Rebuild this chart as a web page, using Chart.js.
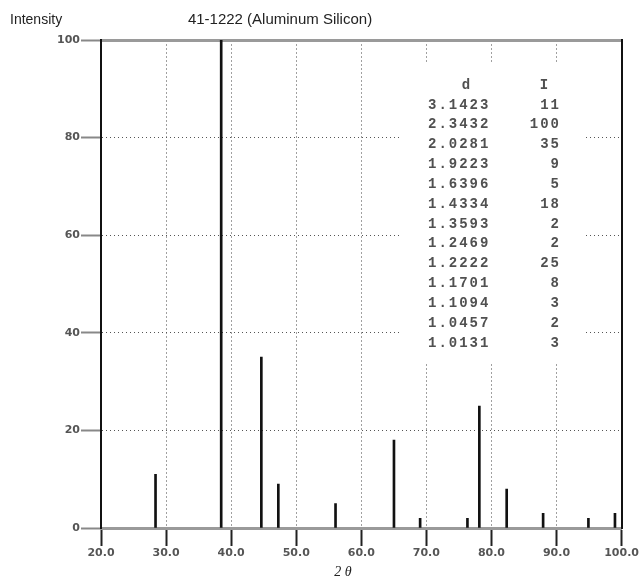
<!DOCTYPE html>
<html>
<head>
<meta charset="utf-8">
<script src="https://cdn.jsdelivr.net/npm/chart.js@4/dist/chart.umd.min.js"></script>
<style>
  html, body { margin: 0; padding: 0; background: #fff; }
  #wrap { width: 640px; height: 582px; }
</style>
</head>
<body>
<div id="wrap"><canvas id="c" width="640" height="582"></canvas></div>
<script>
// ─── Data: PDF card 41-1222 (Aluminum Silicon) ────────────────────────────────

const dSpacing  = [3.1423, 2.3432, 2.0281, 1.9223, 1.6396, 1.4334, 1.3593, 1.2469, 1.2222, 1.1701, 1.1094, 1.0457, 1.0131];
const intensity = [11, 100, 35, 9, 5, 18, 2, 2, 25, 8, 3, 2, 3];
const twoTheta  = [28.38, 38.47, 44.64, 47.25, 56.04, 65.02, 69.04, 76.31, 78.14, 82.34, 87.94, 94.90, 98.98];

const xTicks = [20, 30, 40, 50, 60, 70, 80, 90, 100];
const yTicks = [0, 20, 40, 60, 80, 100];

const chartTitle = '41-1222 (Aluminum Silicon)';
const yTitle     = 'Intensity';
const xTitle     = '2 θ';

// ─── Plugin: titles + d/I table ───────────────────────────────────────────────

const annotations = {
  id: 'annotations',
  afterDraw(chart) {
    const ctx = chart.ctx;
    ctx.save();

    ctx.fillStyle = '#222';
    ctx.textBaseline = 'middle';
    ctx.font = '15px "Liberation Sans", Arial, sans-serif';
    ctx.textAlign = 'center';
    ctx.fillText(chartTitle, 280, 20);

    ctx.font = '14px "Liberation Sans", Arial, sans-serif';
    ctx.textAlign = 'left';
    ctx.fillText(yTitle, 10, 20);

    ctx.font = 'italic 14px "Liberation Serif", serif';
    ctx.textAlign = 'center';
    ctx.fillText(xTitle, 343, 572);

    // white box behind the table hides the grid
    ctx.fillStyle = '#fff';
    ctx.fillRect(400, 62, 183, 301);

    ctx.fillStyle = '#505050';
    ctx.font = 'bold 14px "Liberation Mono", monospace';
    ctx.letterSpacing = '2px';
    ctx.textAlign = 'center';
    ctx.fillText('d', 467, 85);
    ctx.fillText('I', 545, 85);

    dSpacing.forEach((d, i) => {
      const y = 105 + i * 19.85;
      ctx.textAlign = 'left';
      ctx.fillText(d.toFixed(4), 428, y);
      ctx.textAlign = 'right';
      ctx.fillText(String(intensity[i]), 561, y);
    });

    ctx.restore();
  },
};

// ─── Chart ────────────────────────────────────────────────────────────────────

const tickFont = { family: '"DejaVu Sans", sans-serif', size: 11, weight: 'bold' };

new Chart(document.getElementById('c').getContext('2d'), {
  type: 'bar',
  data: {
    datasets: [
      {
        label: 'I',
        data: twoTheta.map((x, i) => ({ x, y: intensity[i] })),
        backgroundColor: '#111',
        borderWidth: 0,
        barThickness: 2,
        grouped: false,
      },
    ],
  },
  plugins: [annotations],
  options: {
    responsive: false,
    animation: false,
    layout: { padding: { top: 40, right: 18, bottom: 0, left: 0 } },
    plugins: {
      legend:  { display: false },
      title:   { display: false },
      tooltip: { enabled: false },
    },
    scales: {
      x: {
        type: 'linear',
        position: 'bottom',
        min: 20,
        max: 100,
        offset: false,
        afterBuildTicks: (s) => { s.ticks = xTicks.map(v => ({ value: v })); },
        afterFit: (s) => { s.height = 54; },
        ticks: {
          callback: (v) => Number(v).toFixed(1),
          font: tickFont,
          color: '#555',
          padding: 1,
          maxRotation: 0,
          autoSkip: false,
        },
        grid: {
          offset: false,
          color: (c) => (c.tick && (c.tick.value === 20 || c.tick.value === 100)) ? 'rgba(0,0,0,0)' : '#a0a0a0',
          lineWidth: 1,
          tickLength: 18,
          tickColor: '#222',
          tickWidth: 2,
        },
        border: { display: true, color: '#9a9a9a', width: 3, dash: [2, 2] },
      },
      x2: {
        type: 'linear',
        position: 'top',
        min: 20,
        max: 100,
        afterFit: (s) => { s.height = 0; },
        ticks: { display: false },
        grid: { display: false },
        border: { display: true, color: '#9a9a9a', width: 3 },
      },
      y: {
        type: 'linear',
        position: 'left',
        min: 0,
        max: 100,
        afterBuildTicks: (s) => { s.ticks = yTicks.map(v => ({ value: v })); },
        afterFit: (s) => { s.width = 101; },
        ticks: {
          font: tickFont,
          color: '#555',
          padding: 1,
        },
        grid: {
          color: (c) => (c.tick && (c.tick.value === 0 || c.tick.value === 100)) ? 'rgba(0,0,0,0)' : '#555',
          lineWidth: 1,
          tickLength: 20,
          tickColor: '#888',
          tickWidth: 2,
        },
        border: { display: true, color: '#111', width: 2, dash: [1, 3] },
      },
      y2: {
        type: 'linear',
        position: 'right',
        min: 0,
        max: 100,
        afterFit: (s) => { s.width = 0; },
        ticks: { display: false },
        grid: { display: false },
        border: { display: true, color: '#111', width: 2 },
      },
    },
  },
});
</script>
</body>
</html>
